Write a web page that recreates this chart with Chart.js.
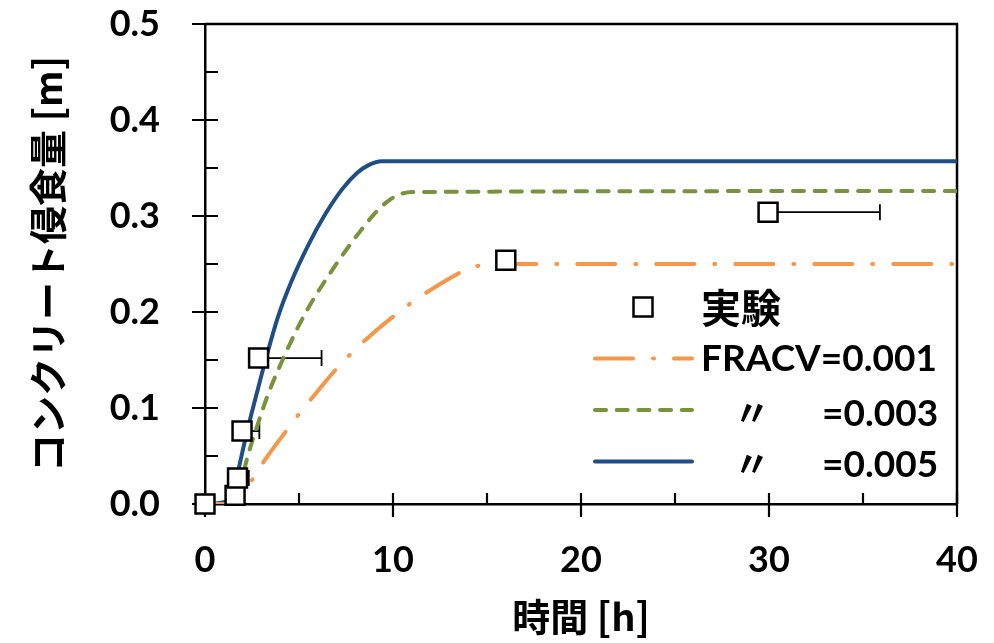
<!DOCTYPE html>
<html>
<head>
<meta charset="utf-8">
<script src="https://cdn.jsdelivr.net/npm/chart.js@4.4.1/dist/chart.umd.min.js"></script>
<style>
  html, body { margin: 0; padding: 0; background: #fff; }
  #wrap { width: 994px; height: 643px; }
</style>
</head>
<body>
<div id="wrap"><canvas id="chart"></canvas></div>
<script>
// experiment (square markers, error bar to the right)
const expX = [0, 1.6, 1.73, 1.97, 2.85, 16.0, 29.95];
const expY = [0, 0.009, 0.027, 0.076, 0.152, 0.254, 0.304];
const expErrX = [0, 0, 0.6, 0.92, 3.35, 0, 5.95];

// FRACV=0.001
const fr1X = [0, 1.0, 1.6, 2.0, 2.57, 3.19, 4.43, 5.05, 5.76, 7.09, 7.89, 9.0, 10.0, 11.0, 12.0, 13.0, 14.0, 14.8, 15.5, 40];
const fr1Y = [0, 0, 0.002, 0.01, 0.027, 0.046, 0.079, 0.095, 0.112, 0.143, 0.159, 0.179, 0.195, 0.21, 0.223, 0.235, 0.245, 0.249, 0.25, 0.25];

// FRACV=0.003
const fr3X = [0, 1.6, 1.85, 2.13, 2.84, 3.37, 4.17, 4.79, 5.32, 5.85, 6.47, 7.09, 7.71, 8.33, 9.0, 9.7, 10.3, 11.0, 40];
const fr3Y = [0, 0, 0.012, 0.039, 0.085, 0.115, 0.152, 0.178, 0.198, 0.216, 0.235, 0.253, 0.27, 0.286, 0.302, 0.315, 0.322, 0.325, 0.326];

// FRACV=0.005
const fr5X = [0, 1.0, 1.5, 1.77, 2.22, 2.75, 3.19, 3.9, 4.6, 5.5, 6.4, 7.3, 8.1, 8.7, 9.4, 40];
const fr5Y = [0, 0.002, 0.012, 0.035, 0.074, 0.115, 0.148, 0.196, 0.232, 0.27, 0.302, 0.328, 0.345, 0.353, 0.357, 0.357];

const xMajor = [0, 10, 20, 30, 40];
const xMinor = [5, 15, 25, 35];
const yMajor = [0, 0.1, 0.2, 0.3, 0.4, 0.5];
const yMinor = [0.05, 0.15, 0.25, 0.35, 0.45];

const seriesNames = ['実験', 'FRACV=0.001', '=0.003', '=0.005'];
const dittoMark = '〃';
const xTitle = '時間 [h]';
const yTitle = 'コンクリート侵食量 [m]';

const colors = {
    orange: '#F79646',
    green: '#77933C',
    blue: '#1F4E87'
};

const latin = 'Lato, "Noto Sans", sans-serif';
const cjk = '"Noto Sans CJK JP", sans-serif';

const zip = (xs, ys) => xs.map((x, i) => ({ x: x, y: ys[i] }));

const dashOrange = [38, 20, 1, 20];
const dashGreen = [11, 10.7];

// axis ticks crossing the axis + box on top / right
const axisDecor = {
    id: 'axisDecor',
    beforeDatasetsDraw(chart) {
        const { ctx, chartArea: a, scales: { x, y } } = chart;
        ctx.save();
        ctx.strokeStyle = '#000';
        ctx.lineWidth = 2.5;
        ctx.beginPath();
        ctx.moveTo(a.left, a.top);
        ctx.lineTo(a.right, a.top);
        ctx.lineTo(a.right, a.bottom);
        ctx.stroke();

        ctx.lineWidth = 2.2;
        ctx.beginPath();
        xMajor.forEach(v => {
            const px = x.getPixelForValue(v);
            ctx.moveTo(px, a.bottom - 11);
            ctx.lineTo(px, a.bottom + 13);
        });
        xMinor.forEach(v => {
            const px = x.getPixelForValue(v);
            ctx.moveTo(px, a.bottom - 11);
            ctx.lineTo(px, a.bottom);
        });
        yMajor.forEach(v => {
            const py = y.getPixelForValue(v);
            ctx.moveTo(a.left - 13, py);
            ctx.lineTo(a.left + 13, py);
        });
        yMinor.forEach(v => {
            const py = y.getPixelForValue(v);
            ctx.moveTo(a.left, py);
            ctx.lineTo(a.left + 13, py);
        });
        ctx.stroke();

        // horizontal error bars of the experiment
        ctx.lineWidth = 1.8;
        ctx.beginPath();
        expX.forEach((v, i) => {
            if (!expErrX[i]) return;
            const x0 = x.getPixelForValue(v);
            const x1 = x.getPixelForValue(v + expErrX[i]);
            const py = y.getPixelForValue(expY[i]);
            ctx.moveTo(x0, py);
            ctx.lineTo(x1, py);
            ctx.moveTo(x1, py - 8);
            ctx.lineTo(x1, py + 8);
        });
        ctx.stroke();
        ctx.restore();
    }
};

// legend inside the plot
const insideLegend = {
    id: 'insideLegend',
    afterDraw(chart) {
        const { ctx } = chart;
        const ds = chart.data.datasets;
        const x0 = 595, x1 = 692, textX = 701, rowY = 307, gap = 51.5;
        ctx.save();
        ctx.fillStyle = '#000';
        ctx.textBaseline = 'middle';
        ctx.textAlign = 'left';

        // marker row
        ctx.lineWidth = 2.5;
        ctx.strokeStyle = '#000';
        ctx.fillStyle = '#fff';
        ctx.fillRect(643 - 9.5, rowY - 9.5, 19, 19);
        ctx.strokeRect(643 - 9.5, rowY - 9.5, 19, 19);
        ctx.fillStyle = '#000';
        ctx.font = 'bold 40px ' + cjk;
        ctx.fillText(seriesNames[0], textX, rowY + 1);

        for (let i = 1; i < 4; i++) {
            const yy = rowY + gap * i;
            ctx.strokeStyle = ds[i].borderColor;
            ctx.lineWidth = ds[i].borderWidth;
            ctx.lineCap = 'round';
            ctx.setLineDash(ds[i].borderDash || []);
            ctx.beginPath();
            ctx.moveTo(x0, yy);
            ctx.lineTo(x1, yy);
            ctx.stroke();
            ctx.setLineDash([]);
            if (i === 1) {
                ctx.font = 'bold 37px ' + latin;
                ctx.fillText(seriesNames[i], textX, yy + 1);
            } else {
                ctx.font = 'bold 36px ' + cjk;
                ctx.fillText(dittoMark, 734, yy + 2);
                ctx.font = 'bold 37px ' + latin;
                ctx.fillText(seriesNames[i], 822, yy + 4);
            }
        }
        ctx.restore();
    }
};

new Chart(document.getElementById('chart'), {
    type: 'scatter',
    data: {
        datasets: [
            {
                label: seriesNames[0],
                data: zip(expX, expY),
                showLine: false,
                pointStyle: 'rect',
                pointRadius: 13.4,
                pointHoverRadius: 13.4,
                pointBackgroundColor: '#fff',
                pointBorderColor: '#000',
                pointBorderWidth: 2.5,
                clip: false
            },
            {
                label: seriesNames[1],
                data: zip(fr1X, fr1Y),
                showLine: true,
                borderColor: colors.orange,
                borderWidth: 4,
                borderDash: dashOrange,
                borderCapStyle: 'round',
                cubicInterpolationMode: 'monotone',
                pointRadius: 0
            },
            {
                label: seriesNames[2],
                data: zip(fr3X, fr3Y),
                showLine: true,
                borderColor: colors.green,
                borderWidth: 4,
                borderDash: dashGreen,
                borderCapStyle: 'round',
                cubicInterpolationMode: 'monotone',
                pointRadius: 0
            },
            {
                label: seriesNames[3],
                data: zip(fr5X, fr5Y),
                showLine: true,
                borderColor: colors.blue,
                borderWidth: 4,
                borderCapStyle: 'round',
                cubicInterpolationMode: 'monotone',
                pointRadius: 0
            }
        ]
    },
    options: {
        responsive: true,
        maintainAspectRatio: false,
        animation: false,
        layout: { padding: { top: 24, right: 37, left: 0, bottom: 0 } },
        plugins: {
            legend: { display: false },
            tooltip: { enabled: false }
        },
        scales: {
            x: {
                type: 'linear',
                min: 0,
                max: 40,
                afterFit: (s) => {
                    s.height = 139;
                    s.paddingLeft = 0;
                    s.paddingRight = 0;
                },
                grid: { display: false, drawTicks: false },
                border: { display: true, color: '#000', width: 2.5 },
                ticks: {
                    stepSize: 10,
                    padding: 35,
                    color: '#000',
                    font: { family: latin, size: 36, weight: 'bold' }
                },
                title: {
                    display: true,
                    text: xTitle,
                    color: '#000',
                    padding: { top: 0, bottom: 4 },
                    font: { family: cjk, size: 38, weight: 'bold' }
                }
            },
            y: {
                min: 0,
                max: 0.5,
                afterFit: (s) => {
                    s.width = 205;
                    s.paddingTop = 0;
                    s.paddingBottom = 0;
                },
                grid: { display: false, drawTicks: false },
                border: { display: true, color: '#000', width: 2.5 },
                ticks: {
                    stepSize: 0.1,
                    padding: 45,
                    color: '#000',
                    font: { family: latin, size: 36, weight: 'bold' },
                    callback: (v) => v.toFixed(1)
                },
                title: {
                    display: true,
                    text: yTitle,
                    color: '#000',
                    padding: { top: 25, bottom: 0 },
                    font: { family: cjk, size: 38, weight: 'bold' }
                }
            }
        }
    },
    plugins: [axisDecor, insideLegend]
});
</script>
</body>
</html>
